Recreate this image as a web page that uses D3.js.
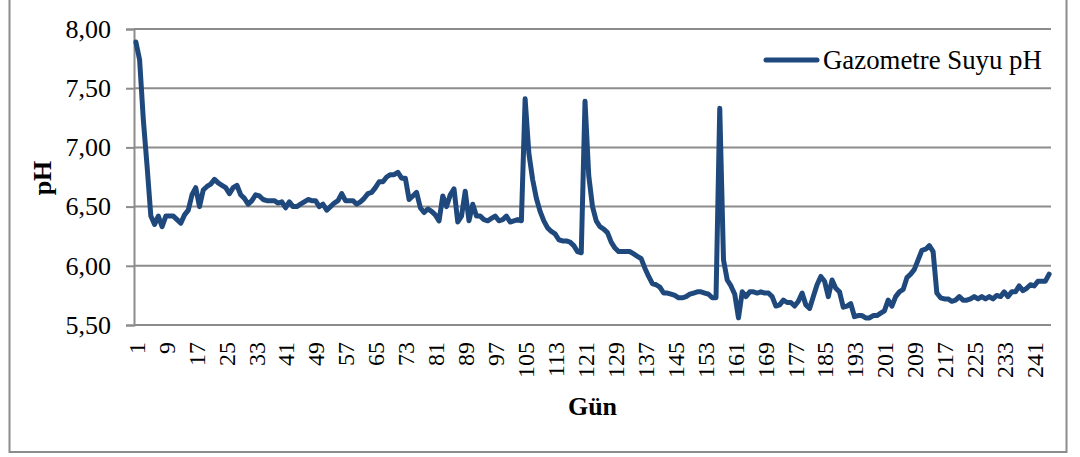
<!DOCTYPE html>
<html>
<head>
<meta charset="utf-8">
<script src="https://cdn.jsdelivr.net/npm/d3@7"></script>
<style>
  html, body { margin: 0; padding: 0; background: #fff; }
  svg { display: block; font-family: "Liberation Serif", "Times New Roman", serif; }
</style>
</head>
<body>
<svg id="chart" width="1080" height="457"></svg>
<script>
// Daily pH of the gasometer water
const days = d3.range(1, 246);
const phValues = [
  7.89,7.74,7.23,6.84,6.42,6.35,6.42,6.33,6.42,6.42,
  6.42,6.39,6.36,6.43,6.47,6.60,6.66,6.50,6.64,6.67,
  6.69,6.73,6.70,6.68,6.66,6.61,6.66,6.68,6.60,6.57,
  6.52,6.55,6.60,6.59,6.56,6.55,6.55,6.55,6.53,6.54,
  6.49,6.54,6.50,6.50,6.52,6.54,6.56,6.55,6.55,6.50,
  6.52,6.47,6.50,6.53,6.55,6.61,6.55,6.55,6.55,6.52,
  6.54,6.57,6.61,6.62,6.66,6.71,6.71,6.75,6.77,6.77,
  6.79,6.74,6.74,6.56,6.59,6.62,6.49,6.45,6.48,6.46,
  6.43,6.38,6.59,6.50,6.60,6.65,6.37,6.42,6.63,6.38,
  6.52,6.42,6.42,6.39,6.38,6.40,6.42,6.38,6.39,6.42,
  6.37,6.38,6.39,6.38,7.41,6.95,6.73,6.57,6.46,6.38,
  6.32,6.29,6.27,6.22,6.21,6.21,6.20,6.17,6.12,6.11,
  7.39,6.76,6.50,6.38,6.33,6.31,6.28,6.20,6.15,6.12,
  6.12,6.12,6.12,6.10,6.08,6.06,5.98,5.91,5.85,5.84,
  5.82,5.77,5.77,5.76,5.75,5.73,5.73,5.74,5.76,5.77,
  5.78,5.78,5.77,5.76,5.73,5.73,7.33,6.05,5.88,5.83,
  5.76,5.56,5.78,5.74,5.78,5.78,5.77,5.78,5.77,5.77,
  5.74,5.66,5.67,5.71,5.69,5.69,5.66,5.70,5.77,5.67,
  5.64,5.74,5.84,5.91,5.87,5.74,5.88,5.81,5.78,5.65,
  5.66,5.68,5.57,5.58,5.58,5.56,5.56,5.58,5.58,5.60,
  5.62,5.71,5.66,5.74,5.78,5.80,5.90,5.93,5.97,6.05,
  6.13,6.14,6.17,6.12,5.77,5.73,5.72,5.72,5.70,5.71,
  5.74,5.71,5.71,5.72,5.74,5.72,5.74,5.72,5.74,5.72,
  5.75,5.74,5.78,5.74,5.78,5.78,5.83,5.79,5.81,5.84,
  5.83,5.87,5.87,5.87,5.93
];
const yTicks = [5.5, 6.0, 6.5, 7.0, 7.5, 8.0];
const xTickDays = days.filter(d => (d - 1) % 8 === 0);
const seriesName = "Gazometre Suyu pH";
const xTitle = "Gün";
const yTitle = "pH";

const serif = "Liberation Serif";
const svg = d3.select("#chart");
const plot = { left: 134, right: 1051, top: 29, bottom: 325 };
const lineColor = "#1f497d";
const gridColor = "#8c8c8c";

// outer chart frame
svg.append("rect")
  .attr("x", 9.5).attr("y", -5)
  .attr("width", 1057).attr("height", 457)
  .attr("fill", "none").attr("stroke", "#8c8c8c").attr("stroke-width", 2);

const x = d3.scalePoint().domain(days).range([plot.left, plot.right]).padding(0.5);
const y = d3.scaleLinear().domain([5.5, 8.0]).range([plot.bottom, plot.top]);

// horizontal grid
svg.append("g")
  .selectAll("line")
  .data(yTicks)
  .join("line")
  .attr("x1", plot.left).attr("x2", plot.right)
  .attr("y1", d => y(d)).attr("y2", d => y(d))
  .attr("stroke", gridColor).attr("stroke-width", 2);

// y axis
const yAxis = svg.append("g")
  .attr("transform", `translate(${plot.left},0)`)
  .call(d3.axisLeft(y).tickValues(yTicks).tickSize(8).tickPadding(15)
    .tickFormat(d => d3.format(".2f")(d).replace(".", ",")));
yAxis.select(".domain").attr("stroke", gridColor).attr("stroke-width", 2);
yAxis.selectAll(".tick line").attr("stroke", gridColor).attr("stroke-width", 2);
yAxis.selectAll(".tick text")
  .attr("font-size", 26).attr("fill", "#000")
  .attr("font-family", serif);

// x axis
const xAxis = svg.append("g")
  .attr("transform", `translate(0,${plot.bottom})`)
  .call(d3.axisBottom(x).tickValues(xTickDays).tickSize(0).tickSizeOuter(0));
xAxis.select(".domain").attr("stroke", gridColor).attr("stroke-width", 2)
  .attr("d", `M${plot.left},0H${plot.right}`);
xAxis.selectAll(".tick text")
  .attr("font-size", 24).attr("fill", "#000")
  .attr("font-family", serif)
  .attr("text-anchor", "end")
  .attr("dy", "0.35em")
  .attr("y", 0)
  .attr("transform", "translate(0,17) rotate(-90)");

// data line
const line = d3.line()
  .x((d, i) => x(days[i]))
  .y(d => y(d));
svg.append("path")
  .datum(phValues)
  .attr("d", line)
  .attr("fill", "none")
  .attr("stroke", lineColor)
  .attr("stroke-width", 5)
  .attr("stroke-linejoin", "round")
  .attr("stroke-linecap", "round");

// axis titles
svg.append("text")
  .attr("x", (plot.left + plot.right) / 2).attr("y", 415)
  .attr("text-anchor", "middle")
  .attr("font-family", serif)
  .attr("font-size", 26).attr("font-weight", "bold")
  .text(xTitle);
svg.append("text")
  .attr("transform", "translate(51,178) rotate(-90)")
  .attr("text-anchor", "middle")
  .attr("font-family", serif)
  .attr("font-size", 26).attr("font-weight", "bold")
  .text(yTitle);

// legend
const legend = svg.append("g");
legend.append("line")
  .attr("x1", 766).attr("x2", 817).attr("y1", 60).attr("y2", 60)
  .attr("stroke", lineColor).attr("stroke-width", 5)
  .attr("stroke-linecap", "round");
legend.append("text")
  .attr("x", 823).attr("y", 69)
  .attr("font-family", serif)
  .attr("font-size", 26.8).attr("fill", "#000")
  .text(seriesName);
</script>
</body>
</html>
